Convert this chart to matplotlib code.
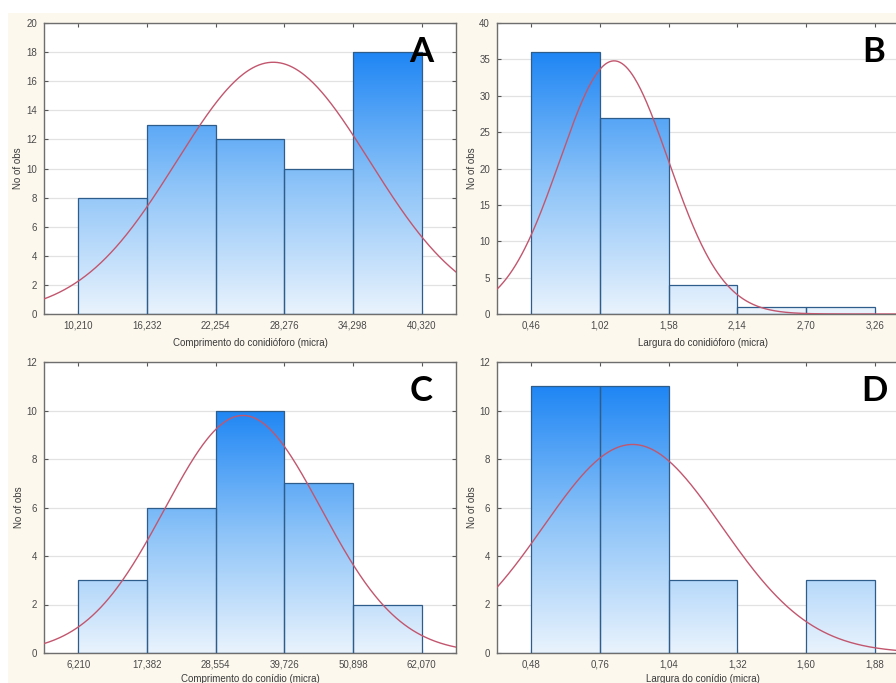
import numpy as np
import matplotlib
matplotlib.use("Agg")
import matplotlib.pyplot as plt
from matplotlib.colors import LinearSegmentedColormap
from matplotlib.patches import Rectangle

# ---------------- data ----------------
edges_a = [10.210, 16.232, 22.254, 28.276, 34.298, 40.320]
counts_a = [8, 13, 12, 10, 18]
ticks_a = ["10,210", "16,232", "22,254", "28,276", "34,298", "40,320"]
mean_a, sd_a = 27.3, 8.47
yticks_a = [0, 2, 4, 6, 8, 10, 12, 14, 16, 18, 20]
xlabel_a = "Comprimento do conidióforo (micra)"

edges_b = [0.46, 1.02, 1.58, 2.14, 2.70, 3.26]
counts_b = [36, 27, 4, 1, 1]
ticks_b = ["0,46", "1,02", "1,58", "2,14", "2,70", "3,26"]
mean_b, sd_b = 1.135, 0.443
yticks_b = [0, 5, 10, 15, 20, 25, 30, 35, 40]
xlabel_b = "Largura do conidióforo (micra)"

edges_c = [6.210, 17.382, 28.554, 39.726, 50.898, 62.070]
counts_c = [3, 6, 10, 7, 2]
ticks_c = ["6,210", "17,382", "28,554", "39,726", "50,898", "62,070"]
mean_c, sd_c = 33.0, 12.74
yticks_c = [0, 2, 4, 6, 8, 10, 12]
xlabel_c = "Comprimento do conídio (micra)"

edges_d = [0.48, 0.76, 1.04, 1.32, 1.60, 1.88]
counts_d = [11, 11, 3, 0, 3]
ticks_d = ["0,48", "0,76", "1,04", "1,32", "1,60", "1,88"]
mean_d, sd_d = 0.893, 0.3637
yticks_d = [0, 2, 4, 6, 8, 10, 12]
xlabel_d = "Largura do conídio (micra)"

letters = ["A", "B", "C", "D"]

# ---------------- style ----------------
W, H = 896, 683
fig = plt.figure(figsize=(W / 100, H / 100), dpi=100, facecolor="white")
cream = "#fcf8ee"
fig.patches.append(Rectangle((8 / W, 0), 1, 1 - 13 / H, transform=fig.transFigure,
                             facecolor=cream, edgecolor="none", zorder=-10))

cmap = LinearSegmentedColormap.from_list("grad", ["#e9f3fd", "#8cc3f8", "#1f86f4"])
font = ["Liberation Sans", "DejaVu Sans"]
tick_color = "#4a4a4a"
spine_color = "#6e6e6e"
curve_color = "#c2566e"
edge_color = "#2e5d8c"

aw, ah = 412 / W, 291 / H
positions = [(44 / W, 1 - 314 / H), (497 / W, 1 - 314 / H),
             (44 / W, 1 - 653 / H), (497 / W, 1 - 653 / H)]
xlabelpads = [5, 5, 3, 3]

panels = [
    (edges_a, counts_a, ticks_a, mean_a, sd_a, yticks_a, xlabel_a),
    (edges_b, counts_b, ticks_b, mean_b, sd_b, yticks_b, xlabel_b),
    (edges_c, counts_c, ticks_c, mean_c, sd_c, yticks_c, xlabel_c),
    (edges_d, counts_d, ticks_d, mean_d, sd_d, yticks_d, xlabel_d),
]

for (pos, (edges, counts, tlabels, mu, sd, yticks, xlabel), letter, lp) in zip(
        positions, panels, letters, xlabelpads):
    ax = fig.add_axes([pos[0], pos[1], aw, ah])
    ax.set_facecolor("white")
    edges = np.array(edges)
    w = edges[1] - edges[0]
    x0, x1 = edges[0] - w / 2, edges[-1] + w / 2
    ymax = yticks[-1]

    ax.set_axisbelow(True)
    ax.yaxis.grid(True, color="#e2e2e2", linewidth=0.9, zorder=0)

    bars = ax.bar(edges[:-1], counts, width=w, align="edge", facecolor="none",
                  edgecolor=edge_color, linewidth=0.9, zorder=3)
    top = max(counts)
    grad = np.linspace(0, 1, 256).reshape(-1, 1)
    for b, c in zip(bars, counts):
        if c <= 0:
            continue
        im = ax.imshow(grad, cmap=cmap, origin="lower", aspect="auto",
                       extent=(x0, x1, 0, top), zorder=2, interpolation="bilinear")
        im.set_clip_path(b)
    ax.set_xlim(x0, x1)
    ax.set_ylim(0, ymax)

    n = sum(counts)
    xs = np.linspace(x0, x1, 400)
    ys = n * w / (sd * np.sqrt(2 * np.pi)) * np.exp(-0.5 * ((xs - mu) / sd) ** 2)
    ax.plot(xs, ys, color=curve_color, linewidth=1.0, zorder=4)

    ax.set_xticks(edges)
    ax.set_xticklabels(tlabels)
    ax.set_yticks(yticks)
    ax.set_yticklabels([str(v) for v in yticks])
    ax.tick_params(direction="in", length=3, width=0.8, color="#555555",
                   top=True, right=True, labelsize=7, labelcolor=tick_color, pad=5)
    for lab in ax.get_xticklabels() + ax.get_yticklabels():
        lab.set_family(font)
    for s in ax.spines.values():
        s.set_color(spine_color)
        s.set_linewidth(1.0)

    ax.set_xlabel(xlabel, fontsize=7, color="#3a3a3a", family=font, labelpad=lp)
    ax.set_ylabel("No of obs", fontsize=7, color="#3a3a3a", family=font, labelpad=2)

    ax.text(0.915, 0.90, letter, transform=ax.transAxes, ha="center", va="center",
            fontsize=25, fontweight="bold", family=["Lato", "DejaVu Sans"], color="black",
            zorder=6)

fig.savefig("out.png", dpi=100, facecolor=fig.get_facecolor())
